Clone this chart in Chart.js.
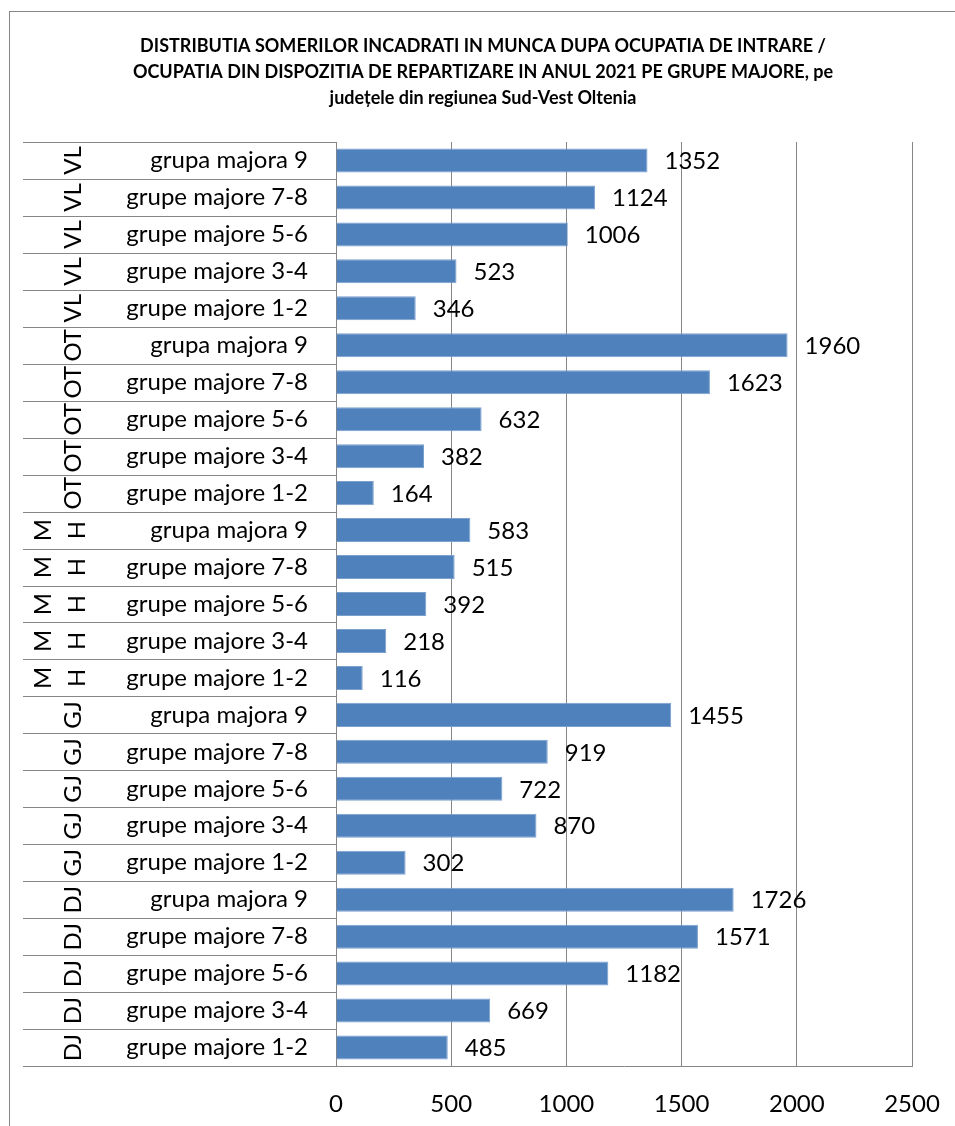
<!DOCTYPE html>
<html>
<head>
<meta charset="utf-8">
<script src="https://cdn.jsdelivr.net/npm/chart.js@4/dist/chart.umd.min.js"></script>
<style>
  html, body { margin: 0; padding: 0; background: #fff; overflow: hidden; }
  #wrap { width: 955px; height: 1126px; }
</style>
</head>
<body>
<div id="wrap"><canvas id="chart"></canvas></div>
<script>
// data, top row first (as in the picture)
var counties = ["VL","VL","VL","VL","VL","OT","OT","OT","OT","OT","MH","MH","MH","MH","MH","GJ","GJ","GJ","GJ","GJ","DJ","DJ","DJ","DJ","DJ"];
var groups = ["grupa majora 9","grupe majore 7-8","grupe majore 5-6","grupe majore 3-4","grupe majore 1-2",
              "grupa majora 9","grupe majore 7-8","grupe majore 5-6","grupe majore 3-4","grupe majore 1-2",
              "grupa majora 9","grupe majore 7-8","grupe majore 5-6","grupe majore 3-4","grupe majore 1-2",
              "grupa majora 9","grupe majore 7-8","grupe majore 5-6","grupe majore 3-4","grupe majore 1-2",
              "grupa majora 9","grupe majore 7-8","grupe majore 5-6","grupe majore 3-4","grupe majore 1-2"];
var values = [1352, 1124, 1006, 523, 346,
              1960, 1623, 632, 382, 164,
              583, 515, 392, 218, 116,
              1455, 919, 722, 870, 302,
              1726, 1571, 1182, 669, 485];
var xTicks = [0, 500, 1000, 1500, 2000, 2500];

var titleLines = [
  "DISTRIBUTIA SOMERILOR INCADRATI IN MUNCA DUPA OCUPATIA DE INTRARE /",
  "OCUPATIA DIN DISPOZITIA DE REPARTIZARE IN ANUL 2021 PE GRUPE MAJORE, pe",
  "județele din regiunea Sud-Vest Oltenia"
];

var FONT = "Lato, 'Open Sans', sans-serif";
var GRID = "#868686";

// draws frame, title, two level category labels and value labels
var decorPlugin = {
  id: "decor",
  beforeDraw: function(chart) {
    var ctx = chart.ctx;
    ctx.save();
    ctx.fillStyle = "#fff";
    ctx.fillRect(0, 0, chart.width, chart.height);
    ctx.strokeStyle = GRID;
    ctx.lineWidth = 1;
    ctx.strokeRect(9.5, 11.5, 1000, 1200);
    ctx.restore();
  },
  afterDraw: function(chart) {
    var ctx = chart.ctx;
    var area = chart.chartArea;
    var yScale = chart.scales.y;
    var rowH = (area.bottom - area.top) / values.length;
    ctx.save();

    // title
    ctx.fillStyle = "#000";
    ctx.font = "bold 18px " + FONT;
    ctx.textAlign = "center";
    ctx.textBaseline = "middle";
    titleLines.forEach(function(t, i) {
      ctx.fillText(t, 483, 46 + i * 26);
    });

    // separators in the label area
    ctx.strokeStyle = GRID;
    ctx.lineWidth = 1;
    for (var i = 0; i <= values.length; i++) {
      var yy = Math.round(area.top + i * rowH) + 0.5;
      ctx.beginPath();
      ctx.moveTo(23, yy);
      ctx.lineTo(area.left, yy);
      ctx.stroke();
    }

    ctx.font = "24px " + FONT;
    ctx.fillStyle = "#000";
    for (var j = 0; j < values.length; j++) {
      var cy = yScale.getPixelForValue(j);
      // group label
      ctx.textAlign = "right";
      ctx.textBaseline = "middle";
      ctx.fillText(groups[j], 308, cy);
      // county label, rotated
      var lines = counties[j] === "MH" ? ["M", "H"] : [counties[j]];
      var xs = lines.length === 2 ? [43, 77] : [73];
      lines.forEach(function(l, k) {
        ctx.save();
        ctx.translate(xs[k], cy);
        ctx.rotate(-Math.PI / 2);
        ctx.textAlign = "center";
        ctx.textBaseline = "middle";
        ctx.fillText(l, 0, 0);
        ctx.restore();
      });
    }

    // value labels
    var meta = chart.getDatasetMeta(0);
    ctx.textAlign = "left";
    ctx.textBaseline = "middle";
    meta.data.forEach(function(bar, idx) {
      ctx.fillText(values[idx], bar.x + 17, bar.y + 1);
    });
    ctx.restore();
  }
};

new Chart(document.getElementById("chart"), {
  type: "bar",
  data: {
    labels: groups,
    datasets: [{
      data: values,
      backgroundColor: "#4F81BD",
      borderColor: "#7BA0CD",
      borderWidth: 1,
      borderSkipped: "left",
      barPercentage: 0.65,
      categoryPercentage: 1
    }]
  },
  options: {
    indexAxis: "y",
    responsive: true,
    maintainAspectRatio: false,
    animation: false,
    layout: { padding: { left: 336, top: 142, right: 43, bottom: 0 } },
    plugins: {
      legend: { display: false },
      tooltip: { enabled: false }
    },
    scales: {
      y: { display: false, offset: true },
      x: {
        min: 0,
        max: 2500,
        afterBuildTicks: function(scale) {
          scale.ticks = xTicks.map(function(v) { return { value: v }; });
        },
        afterFit: function(scale) {
          scale.height = 60;
          scale.paddingLeft = 0;
          scale.paddingRight = 0;
        },
        grid: { color: GRID, drawTicks: false, lineWidth: 1 },
        border: { color: GRID },
        ticks: {
          color: "#000",
          padding: 24,
          font: { family: FONT, size: 24 },
          callback: function(v) { return String(v); }
        }
      }
    }
  },
  plugins: [decorPlugin]
});
</script>
</body>
</html>
